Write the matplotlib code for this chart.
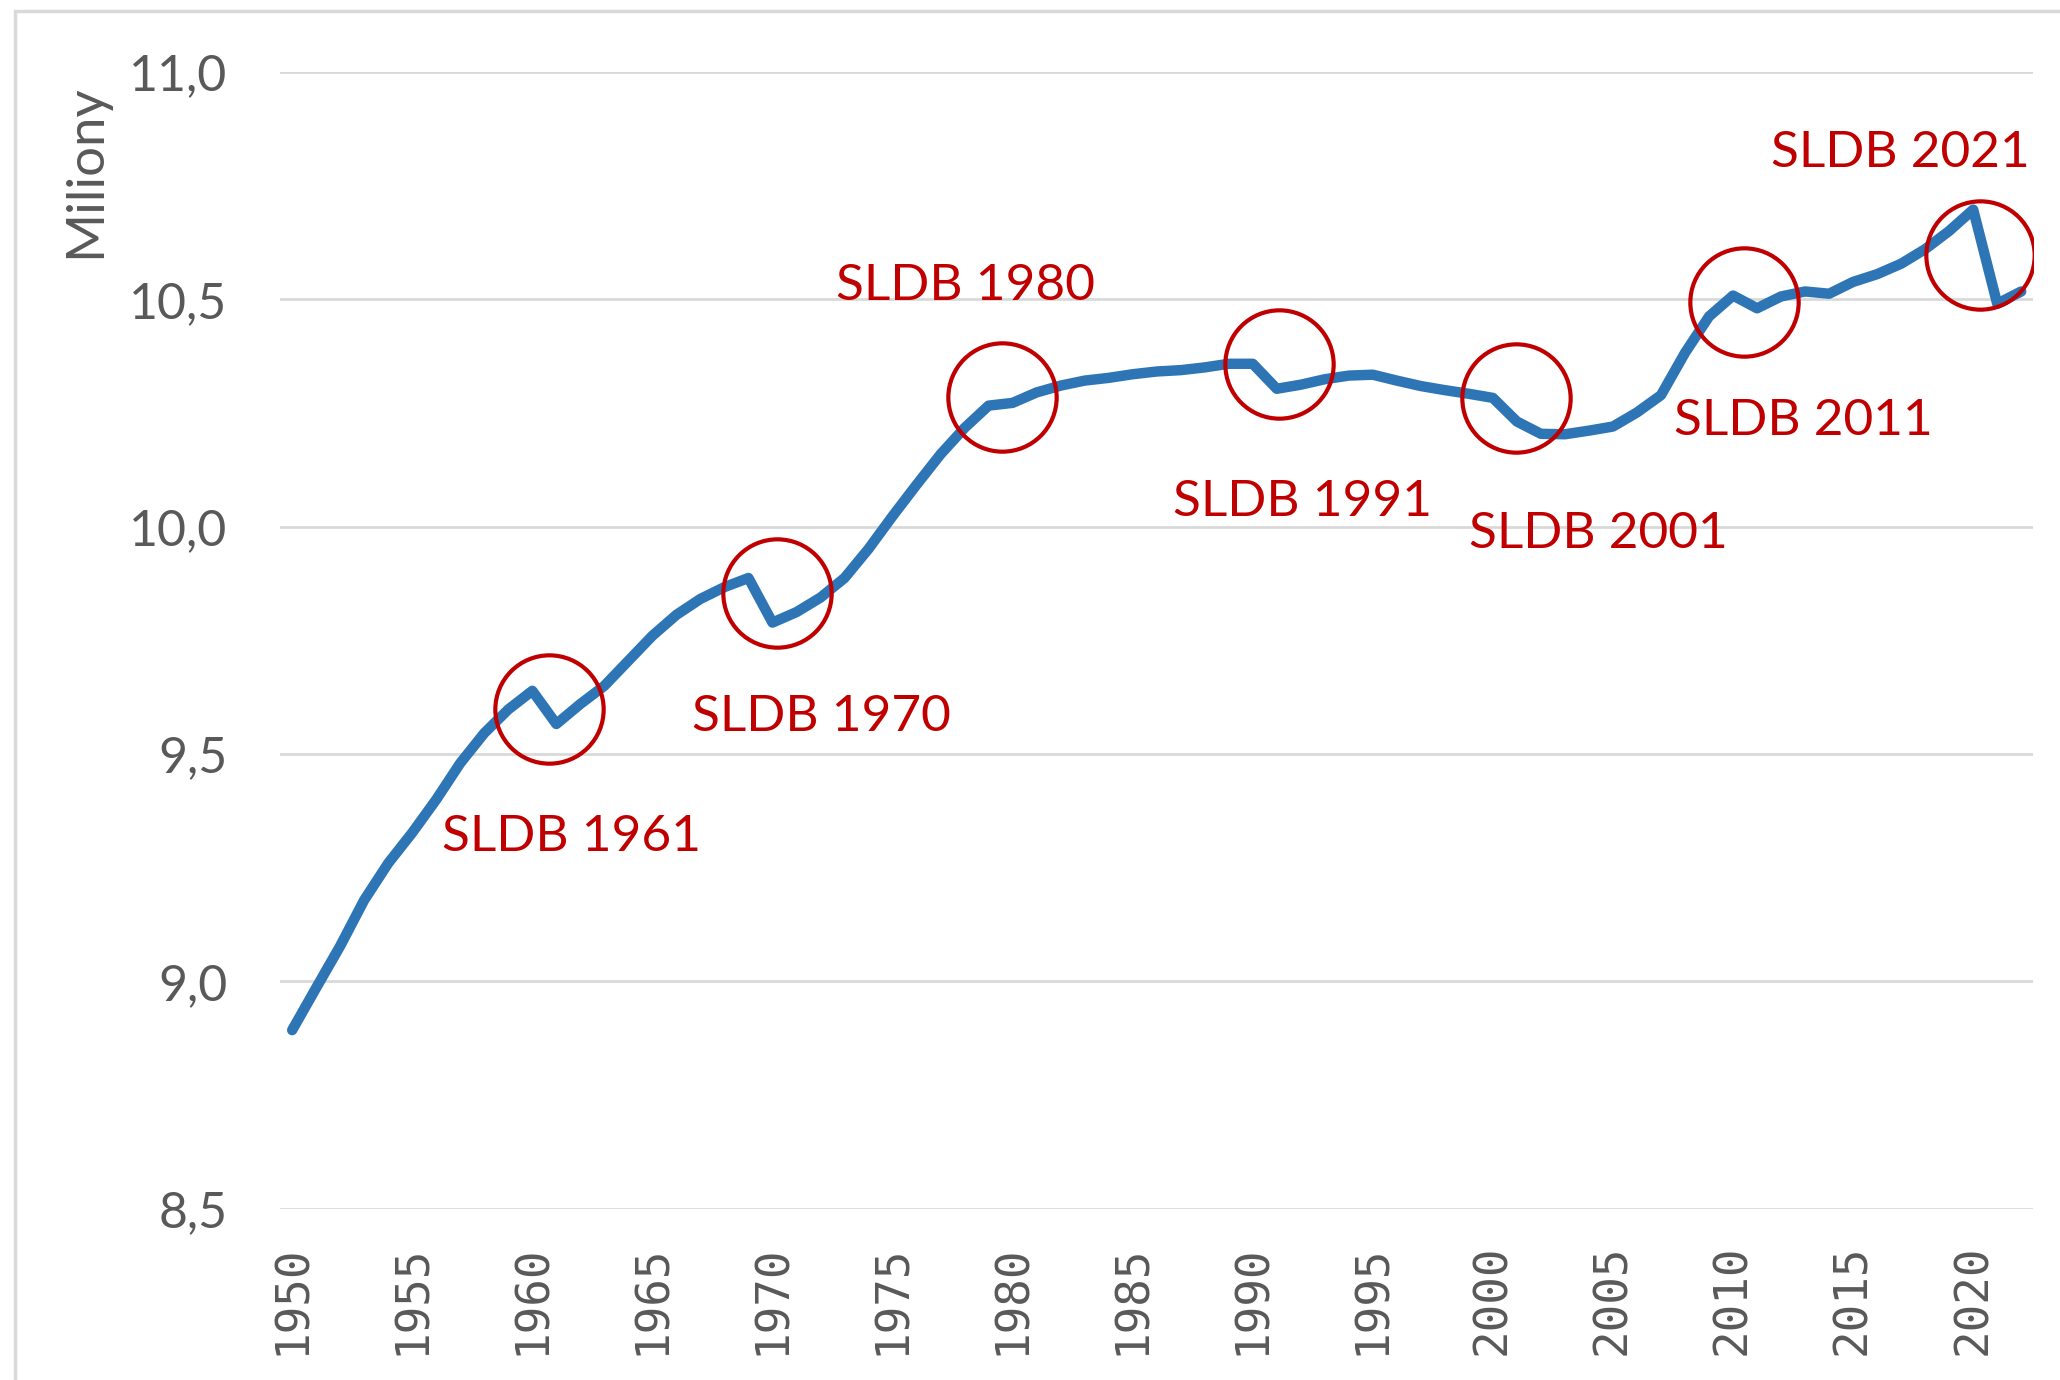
import matplotlib.pyplot as plt
from matplotlib.patches import Rectangle

# Population of Czechia, millions
years = list(range(1950, 2023))
population = [
    8.893, 8.986, 9.078, 9.179, 9.260, 9.327, 9.400, 9.480, 9.546, 9.598,
    9.639, 9.566, 9.610, 9.650, 9.705, 9.760, 9.806, 9.841, 9.867, 9.887,
    9.789, 9.812, 9.844, 9.887, 9.951, 10.023, 10.092, 10.159, 10.217, 10.266,
    10.272, 10.295, 10.310, 10.321, 10.327, 10.335, 10.341, 10.344, 10.350, 10.358,
    10.358, 10.303, 10.312, 10.324, 10.332, 10.334, 10.321, 10.309, 10.300, 10.292,
    10.283, 10.231, 10.204, 10.203, 10.211, 10.220, 10.251, 10.289, 10.382, 10.462,
    10.508, 10.480, 10.506, 10.517, 10.512, 10.538, 10.555, 10.578, 10.610, 10.650,
    10.697, 10.490, 10.517,
]

# census labels (SLDB) with circle centres and label centres
census_labels = ['SLDB 1961', 'SLDB 1970', 'SLDB 1980', 'SLDB 1991',
                 'SLDB 2001', 'SLDB 2011', 'SLDB 2021']
circle_x = [1960.71, 1970.17, 1979.57, 1991.11, 2000.95, 2010.46, 2020.30]
circle_y = [9.598, 9.855, 10.286, 10.358, 10.283, 10.494, 10.598]
label_x = [1961.64, 1972.03, 1978.04, 1992.09, 2004.39, 2012.92, 2016.97]
label_y = [9.317, 9.582, 10.528, 10.054, 9.984, 10.233, 10.822]

y_ticks = [8.5, 9.0, 9.5, 10.0, 10.5, 11.0]
x_ticks = list(range(1950, 2021, 5))

grey = '#595959'
red = '#C00000'

plt.rcParams['font.family'] = ['Lato', 'DejaVu Sans']

fig = plt.figure(figsize=(20.6, 13.8), dpi=100)
ax = fig.add_axes([0.136, 0.124, 0.851, 0.824])

# outer chart border (cut by the image edge on right and bottom)
fig.patches.append(Rectangle((15 / 2060, -0.05), 1.2, 1 - 11 / 1380 + 0.05,
                             transform=fig.transFigure, fill=False,
                             edgecolor='#D9D9D9', linewidth=2.5))

ax.plot(years, population, color='#2E75B6', linewidth=7.5,
        solid_joinstyle='round', solid_capstyle='round', zorder=3)

ax.plot(circle_x, circle_y, linestyle='none', marker='o', markersize=78,
        markerfacecolor='none', markeredgecolor=red, markeredgewidth=3, zorder=4)

for lab, lx, ly in zip(census_labels, label_x, label_y):
    ax.text(lx, ly, lab, color=red, fontsize=37, ha='center', va='center', zorder=5)

ax.set_xlim(1949.5, 2022.5)
ax.set_ylim(8.5, 11.0)
ax.set_yticks(y_ticks)
ax.set_yticklabels([f'{v:.1f}'.replace('.', ',') for v in y_ticks])
ax.set_xticks(x_ticks)
ax.set_xticklabels([str(x) for x in x_ticks], rotation=90,
                   fontfamily='DejaVu Sans Mono')
ax.tick_params(axis='y', length=0, pad=38, labelsize=36, labelcolor=grey)
ax.tick_params(axis='x', length=0, pad=26, labelsize=33, labelcolor=grey)
ax.grid(axis='y', color='#D9D9D9', linewidth=2)
ax.set_axisbelow(True)
for s in ax.spines.values():
    s.set_visible(False)

fig.text(65 / 1568, 1 - 130 / 1050, 'Miliony', rotation=90, color=grey,
         fontsize=38, ha='center', va='center')

fig.savefig('out.png', dpi=100)
